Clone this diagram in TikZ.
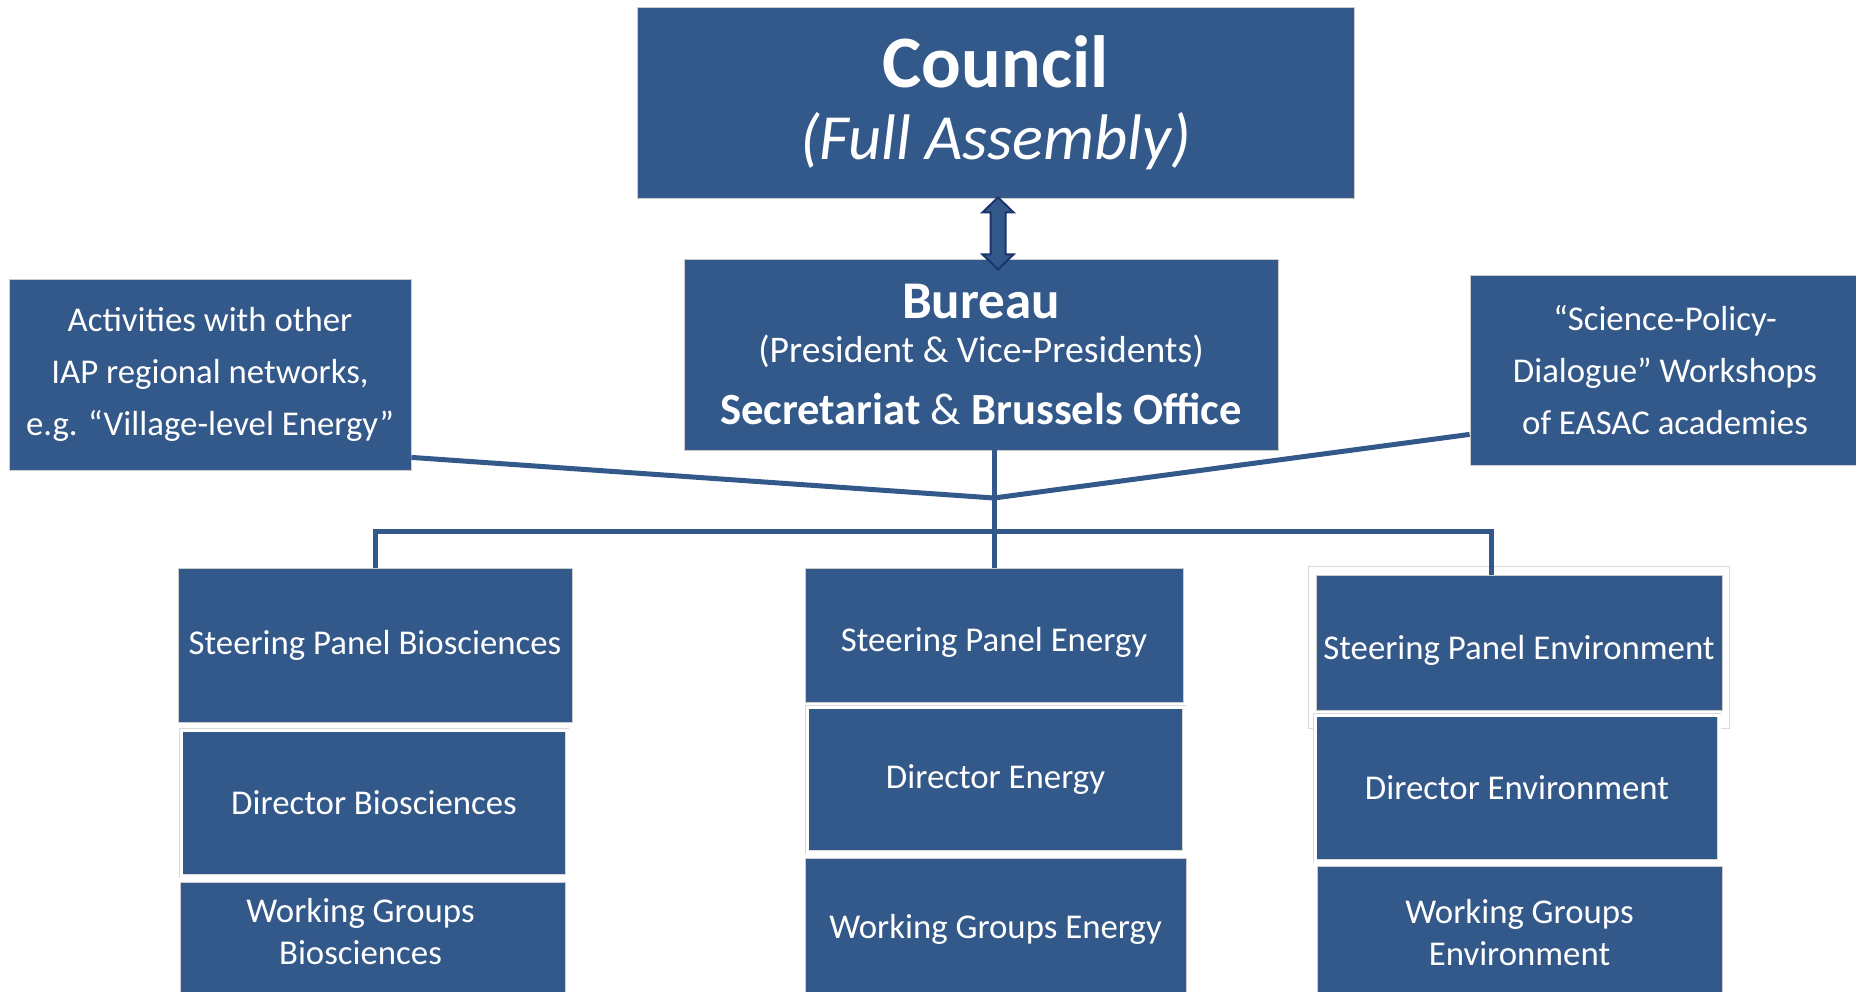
\documentclass[tikz,border=0pt]{standalone}
\usepackage{fontspec}
\setmainfont{Carlito}
\usetikzlibrary{calc}
\definecolor{easacblue}{RGB}{51,88,138}
\definecolor{arrowline}{RGB}{28,52,108}
\tikzset{
  box/.style={fill=easacblue, draw=black!20, line width=0.4pt, text=white,
    align=center, inner sep=0pt, font=\fontsize{17.4}{26}\selectfont},
  boxtext/.style={text=white, align=center, inner sep=0pt, font=\fontsize{17.4}{21}\selectfont},
  framed/.style={double=white, double distance=1.5pt, draw=black!15},
  twolines/.style={font=\fontsize{17.4}{21}\selectfont},
  link/.style={draw=easacblue, line width=2.5pt},
  twoway/.style={fill=easacblue, draw=arrowline, line width=1pt, line join=miter},
}
\begin{document}
\begin{tikzpicture}[x=0.5pt, y=-0.5pt]
  \useasboundingbox (0,0) rectangle (1856,991);
  % top of the tree
  \node[box, minimum width=358.5pt, minimum height=95.5pt,
    font=\fontsize{37}{36}\selectfont] (council) at (995.5,102.5)
    {{\bfseries Council}\\{\fontsize{32.2}{32}\selectfont\itshape (Full Assembly)}};
  \node[box, minimum width=297pt, minimum height=95.5pt,
    font=\fontsize{19}{22}\selectfont] (bureau) at (981,354.5)
    {{\fontsize{26.5}{26}\selectfont\bfseries Bureau}\\
     {\fontsize{18.8}{22}\selectfont (President \& Vice-Presidents)}\\[9pt]
     {\fontsize{22.3}{24}\selectfont\textbf{Secretariat} \& \textbf{Brussels Office}}};
  \draw[twoway] ($(council.south)+(2.5,-1)$) -- ++(15.5,15) -- ++(-8,0) -- ++(0,42)
    -- ++(8,0) -- ++(-15.5,15) -- ++(-15.5,-15) -- ++(8,0) -- ++(0,-42) -- ++(-8,0) -- cycle;
  % side activities
  \node[box, minimum width=201pt, minimum height=95.5pt] (iap) at (210,374.5)
    {Activities with other\\IAP regional networks,\\e.g. “Village-level Energy”};
  \node[box, minimum width=195pt, minimum height=95pt] (workshops) at (1665,370)
    {“Science-Policy-\\Dialogue” Workshops\\of EASAC academies};
  % biosciences
  \node[box, minimum width=197pt, minimum height=77pt] (spBio) at (375,645)
    {Steering Panel Biosciences};
  \node[box, framed, minimum width=193pt, minimum height=73pt] (dirBio) at (374,803)
    {Director Biosciences};
  \node[box, minimum width=192.5pt, minimum height=59pt] (wgBio) at (372.5,941) {};
  \node[boxtext] (wgBioText) at ($(wgBio.center)+(-12,-9.5)$) {Working Groups\\Biosciences};
  % energy
  \node[box, minimum width=189pt, minimum height=67pt] (spEnergy) at (994,635) {};
  \node[boxtext] (spEnergyText) at ($(spEnergy.center)+(0,7)$) {Steering Panel Energy};
  \node[box, framed, minimum width=188.5pt, minimum height=72.5pt] (dirEnergy) at (995.5,779.5)
    {Director Energy};
  \node[box, minimum width=190.5pt, minimum height=71pt] (wgEnergy) at (995.5,929)
    {Working Groups Energy};
  % environment
  \node[box, minimum width=203pt, minimum height=67.5pt] (spEnv) at (1519,642.5) {};
  \draw[draw=black!15, line width=0.6pt] ($(spEnv.north west)+(-7,-8)$) rectangle ($(spEnv.south east)+(7,18)$);
  \node[boxtext] (spEnvText) at ($(spEnv.center)+(0,7.5)$) {Steering Panel Environment};
  \node[box, framed, minimum width=202pt, minimum height=73pt] (dirEnv) at (1517,788)
    {Director Environment};
  \node[box, twolines, minimum width=202.5pt, minimum height=67pt] (wgEnv) at (1519.5,933)
    {Working Groups\\Environment};
  % connectors
  \coordinate (hub) at (994,498);
  \coordinate (bus) at (994,531);
  \draw[link] (hub |- bureau.south) -- (hub |- spEnergy.north);
  \draw[link] ($(iap.south east)+(0,-13)$) -- (hub);
  \draw[link] ($(workshops.south west)+(0,-31)$) -- (hub);
  \draw[link, line join=miter] (spBio.north) |- (bus) -| ([xshift=-14pt]spEnv.north);
\end{tikzpicture}
\end{document}
